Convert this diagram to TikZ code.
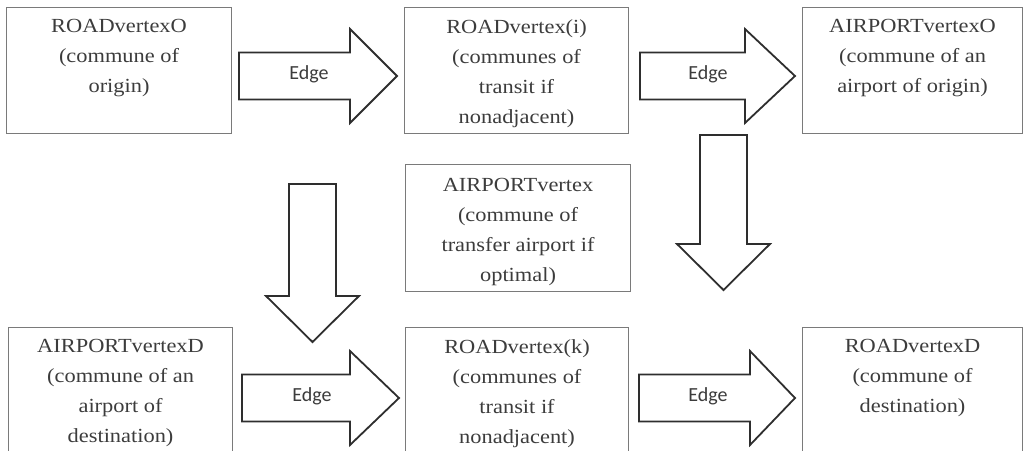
\documentclass[tikz,border=0pt]{standalone}
\usepackage{fontspec}
\setmainfont{Liberation Serif}[FakeStretch=1.12]
\newfontfamily\edgefont{Carlito}
\definecolor{boxline}{HTML}{7A7A7A}
\definecolor{arrline}{HTML}{2E2E2E}
\definecolor{txt}{HTML}{3C3C3C}
\begin{document}
\begin{tikzpicture}[x=1pt,y=-1pt,
  vbox/.style={draw=boxline,line width=1.1pt,rectangle,inner sep=0pt,anchor=north west},
  vtext/.style={anchor=north,align=center,text=txt,inner sep=0pt,
    font=\fontsize{20}{30}\selectfont},
  blockarr/.style={draw=arrline,line width=1.8pt,fill=white,line join=miter},
  edgelbl/.style={text=txt,inner sep=0pt,font=\edgefont\fontsize{20}{24}\selectfont}]
\useasboundingbox (0,0) rectangle (1028,450);
% boxes
\node[vbox,minimum width=225pt,minimum height=126pt] (b1) at (6,7) {};
\node[vbox,minimum width=224pt,minimum height=126pt] (b2) at (404,7) {};
\node[vbox,minimum width=220pt,minimum height=126pt] (b3) at (802,7) {};
\node[vbox,minimum width=225pt,minimum height=127pt] (bm) at (405,164) {};
\node[vbox,minimum width=224pt,minimum height=140pt] (b4) at (8,327) {};
\node[vbox,minimum width=223pt,minimum height=140pt] (b5) at (405,327) {};
\node[vbox,minimum width=220pt,minimum height=140pt] (b6) at (802,327) {};
% texts
\node[vtext] (t1) at ([yshift=-12pt]b1.north) {ROADvertexO\\(commune of\\origin)};
\node[vtext] (t2) at ([yshift=-12pt]b2.north) {ROADvertex(i)\\(communes of\\transit if\\nonadjacent)};
\node[vtext] (t3) at ([yshift=-12pt]b3.north) {AIRPORTvertexO\\(commune of an\\airport of origin)};
\node[vtext] (tm) at ([yshift=-14pt]bm.north) {AIRPORTvertex\\(commune of\\transfer airport if\\optimal)};
\node[vtext] (t4) at ([yshift=-12pt]b4.north) {AIRPORTvertexD\\(commune of an\\airport of\\destination)};
\node[vtext] (t5) at ([yshift=-12pt]b5.north) {ROADvertex(k)\\(communes of\\transit if\\nonadjacent)};
\node[vtext] (t6) at ([yshift=-12pt]b6.north) {ROADvertexD\\(commune of\\destination)};
% horizontal block arrows
\draw[blockarr] (239,52.5) -- (350,52.5) -- (350,29) -- (397,76) -- (350,123) -- (350,99.5) -- (239,99.5) -- cycle;
\node[edgelbl] (e1) at (309,74) {Edge};
\draw[blockarr] (640,52.5) -- (745,52.5) -- (745,29) -- (795,76) -- (745,123) -- (745,99.5) -- (640,99.5) -- cycle;
\node[edgelbl] (e2) at (708,74) {Edge};
\draw[blockarr] (242,374.5) -- (350,374.5) -- (350,351) -- (399,398) -- (350,445) -- (350,421.5) -- (242,421.5) -- cycle;
\node[edgelbl] (e4) at (312,396) {Edge};
\draw[blockarr] (639,374.5) -- (750,374.5) -- (750,351) -- (795,398) -- (750,445) -- (750,421.5) -- (639,421.5) -- cycle;
\node[edgelbl] (e5) at (708,396) {Edge};
% vertical block arrows
\draw[blockarr] (289,184) -- (336,184) -- (336,296) -- (359,296) -- (312.5,342) -- (266,296) -- (289,296) -- cycle;
\draw[blockarr] (700,135) -- (747,135) -- (747,244) -- (770,244) -- (723.5,290) -- (677,244) -- (700,244) -- cycle;
\end{tikzpicture}
\end{document}
